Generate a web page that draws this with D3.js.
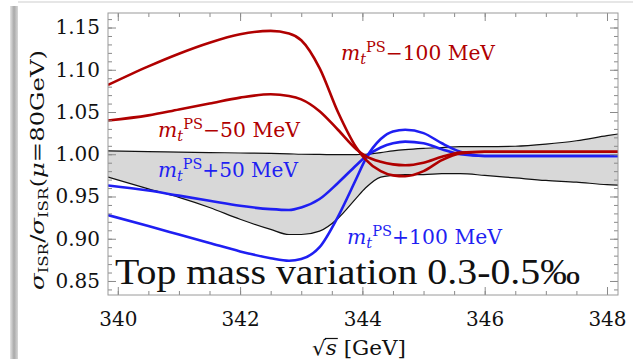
<!DOCTYPE html>
<html>
<head>
<meta charset="utf-8">
<script src="https://cdn.jsdelivr.net/npm/d3@7"></script>
<style>
  html, body { margin: 0; padding: 0; background: #fff; }
  svg { display: block; }
</style>
</head>
<body>
<svg id="chart" width="633" height="359"></svg>
<script>
// ---------------- data ----------------
const sqrtS = [339.84, 340.5, 341, 341.5, 342, 342.5, 342.8, 343, 343.3, 343.6, 343.9, 344.05,
               344.3, 344.5, 344.7, 345, 345.3, 345.6, 346, 346.5, 347, 347.5, 348, 348.18];

const bandUpper = [1.004, 1.003, 1.0025, 1.002, 1.0015, 1.001, 1.0005, 1.000, 0.9998, 0.9995, 0.9995, 1.000,
                   1.002, 1.004, 1.0055, 1.007, 1.008, 1.009, 1.009, 1.0095, 1.012, 1.016, 1.022, 1.024];
const bandLower = [0.973, 0.959, 0.949, 0.937, 0.923, 0.911, 0.905, 0.905, 0.909, 0.924, 0.948, 0.960,
                   0.973, 0.975, 0.976, 0.976, 0.977, 0.977, 0.975, 0.972, 0.969, 0.967, 0.964, 0.9635];

const mMinus100 = [1.082, 1.104, 1.119, 1.132, 1.142, 1.146, 1.143, 1.135, 1.102, 1.050, 1.008, 0.994,
                   0.980, 0.975, 0.974, 0.980, 0.993, 1.001, 1.003, 1.003, 1.003, 1.003, 1.003, 1.003];
const mMinus50  = [1.040, 1.046, 1.053, 1.060, 1.067, 1.071, 1.069, 1.065, 1.051, 1.029, 1.006, 0.998,
                   0.991, 0.988, 0.987, 0.990, 0.997, 1.002, 1.003, 1.003, 1.003, 1.003, 1.003, 1.003];
const mPlus50   = [0.963, 0.957, 0.951, 0.945, 0.939, 0.935, 0.934, 0.937, 0.947, 0.966, 0.987, 0.997,
                   1.008, 1.013, 1.015, 1.013, 1.006, 1.000, 0.998, 0.998, 0.998, 0.998, 0.998, 0.998];
const mPlus100  = [0.928, 0.915, 0.905, 0.895, 0.885, 0.877, 0.874, 0.876, 0.890, 0.926, 0.971, 0.994,
                   1.018, 1.027, 1.029, 1.025, 1.013, 1.003, 0.998, 0.998, 0.998, 0.998, 0.998, 0.998];

const shiftLabels = ["\u2212100 MeV", "\u221250 MeV", "+50 MeV", "+100 MeV"];
const xTickValues = [340, 342, 344, 346, 348];
const yTickValues = [0.85, 0.90, 0.95, 1.00, 1.05, 1.10, 1.15];
const xTickLabels = ["340", "342", "344", "346", "348"];
const yTickLabels = ["0.85", "0.90", "0.95", "1.00", "1.05", "1.10", "1.15"];
const titleText = "Top mass variation 0.3-0.5\u2030";

// ---------------- layout ----------------
const L = 108, R = 618, T = 13, B = 295;
const svg = d3.select("#chart");
const x = d3.scaleLinear().domain([339.84, 348.18]).range([L, R]);
const y = d3.scaleLinear().domain([0.8334, 1.1672]).range([B, T]);

// slide decoration (left shadow bar, top rule)
const defs = svg.append("defs");
const g1 = defs.append("linearGradient").attr("id", "sidebar").attr("x1", "0").attr("x2", "1");
g1.append("stop").attr("offset", "0").attr("stop-color", "#e4e4e4");
g1.append("stop").attr("offset", "0.5").attr("stop-color", "#a9a9a9");
g1.append("stop").attr("offset", "1").attr("stop-color", "#d8d8d8");
svg.append("rect").attr("x", 10).attr("y", 6).attr("width", 8).attr("height", 353).attr("fill", "url(#sidebar)");
svg.append("rect").attr("x", 18).attr("y", 1).attr("width", 615).attr("height", 2).attr("fill", "#e6e6e6");

defs.append("clipPath").attr("id", "plotclip")
  .append("rect").attr("x", L).attr("y", T).attr("width", R - L).attr("height", B - T);

const plot = svg.append("g").attr("clip-path", "url(#plotclip)");

const pts = arr => arr.map((v, i) => [sqrtS[i], v]);

// band
const area = d3.area()
  .x((d, i) => x(sqrtS[i]))
  .y0((d, i) => y(bandLower[i]))
  .y1((d, i) => y(bandUpper[i]))
  .curve(d3.curveMonotoneX);
plot.append("path").datum(sqrtS).attr("d", area).attr("fill", "#d8d8d8");

const line = d3.line().x(d => x(d[0])).y(d => y(d[1])).curve(d3.curveMonotoneX);
[bandUpper, bandLower].forEach(s => {
  plot.append("path").datum(pts(s)).attr("d", line)
    .attr("fill", "none").attr("stroke", "#111").attr("stroke-width", 1.2);
});

const BLUE = "#1f1ff2", RED = "#b00000";
[[mPlus100, BLUE], [mPlus50, BLUE], [mMinus100, RED], [mMinus50, RED]].forEach(([s, c]) => {
  plot.append("path").datum(pts(s)).attr("d", line)
    .attr("fill", "none").attr("stroke", c).attr("stroke-width", 2.6)
    .attr("stroke-linejoin", "round");
});

// ---------------- axes ----------------
const tickColor = "#8a8a8a";
function styleAxis(g) {
  g.select(".domain").remove();
  g.selectAll(".tick line").attr("stroke", tickColor);
  g.selectAll(".tick text").attr("fill", "#111").attr("font-family", "DejaVu Serif").attr("font-size", 20);
}
const xMinor = d3.range(340, 348.01, 0.5);
const yMinor = d3.range(0.84, 1.1601, 0.01).map(v => +v.toFixed(2));

// minor ticks
svg.append("g").attr("transform", `translate(0,${B})`)
  .call(d3.axisBottom(x).tickValues(xMinor).tickSize(-4).tickFormat("")).call(styleAxis);
svg.append("g").attr("transform", `translate(0,${T})`)
  .call(d3.axisTop(x).tickValues(xMinor).tickSize(-4).tickFormat("")).call(styleAxis);
svg.append("g").attr("transform", `translate(${L},0)`)
  .call(d3.axisLeft(y).tickValues(yMinor).tickSize(-4).tickFormat("")).call(styleAxis);
svg.append("g").attr("transform", `translate(${R},0)`)
  .call(d3.axisRight(y).tickValues(yMinor).tickSize(-4).tickFormat("")).call(styleAxis);

// major ticks
svg.append("g").attr("transform", `translate(0,${B})`)
  .call(d3.axisBottom(x).tickValues(xTickValues).tickSize(-8).tickPadding(17)
    .tickFormat((d, i) => xTickLabels[i])).call(styleAxis);
svg.append("g").attr("transform", `translate(0,${T})`)
  .call(d3.axisTop(x).tickValues(xTickValues).tickSize(-8).tickFormat("")).call(styleAxis);
svg.append("g").attr("transform", `translate(${L},0)`)
  .call(d3.axisLeft(y).tickValues(yTickValues).tickSize(-8).tickPadding(8)
    .tickFormat((d, i) => yTickLabels[i])).call(styleAxis);
svg.append("g").attr("transform", `translate(${R},0)`)
  .call(d3.axisRight(y).tickValues(yTickValues).tickSize(-8).tickFormat("")).call(styleAxis);

// frame
svg.append("rect").attr("x", L).attr("y", T).attr("width", R - L).attr("height", B - T)
  .attr("fill", "none").attr("stroke", "#9a9a9a").attr("stroke-width", 1);

// ---------------- curve labels ----------------
function massLabel(px, py, width, color, txt) {
  const t = svg.append("text").attr("x", px).attr("y", py).attr("fill", color)
    .attr("font-family", "DejaVu Serif").attr("font-size", 19.5)
    .attr("textLength", width).attr("lengthAdjust", "spacingAndGlyphs");
  t.append("tspan").attr("font-style", "italic").text("m");
  t.append("tspan").attr("font-style", "italic").attr("font-size", 14).attr("dy", 4).text("t");
  t.append("tspan").attr("font-size", 14).attr("dy", -12).text("PS");
  t.append("tspan").attr("dy", 8).text(txt);
}
massLabel(341, 60, 154, RED, shiftLabels[0]);
massLabel(158, 137, 142, RED, shiftLabels[1]);
massLabel(158, 177, 140, BLUE, shiftLabels[2]);
massLabel(347, 244, 155, BLUE, shiftLabels[3]);

// title text inside plot
svg.append("text").attr("x", 115).attr("y", 284)
  .attr("font-family", "Liberation Serif").attr("font-size", 35).attr("fill", "#111")
  .attr("textLength", 465).attr("lengthAdjust", "spacingAndGlyphs")
  .text(titleText);

// ---------------- axis titles ----------------
const yl = svg.append("text").attr("transform", "translate(44,170) rotate(-90)")
  .attr("text-anchor", "middle").attr("font-family", "DejaVu Serif").attr("font-size", 19)
  .attr("fill", "#111").attr("textLength", 240).attr("lengthAdjust", "spacingAndGlyphs");
yl.append("tspan").attr("font-style", "italic").text("\u03C3");
yl.append("tspan").attr("font-size", 13).attr("dy", 4).text("ISR");
yl.append("tspan").attr("dy", -4).text("/");
yl.append("tspan").attr("font-style", "italic").text("\u03C3");
yl.append("tspan").attr("font-size", 13).attr("dy", 4).text("ISR");
yl.append("tspan").attr("dy", -4).text("(");
yl.append("tspan").attr("font-style", "italic").text("\u03BC");
yl.append("tspan").text("=80GeV)");

const xl = svg.append("text").attr("x", 312).attr("y", 355)
  .attr("font-family", "DejaVu Serif").attr("font-size", 20).attr("fill", "#111")
  .attr("textLength", 94).attr("lengthAdjust", "spacingAndGlyphs");
xl.append("tspan").text("\u221A");
xl.append("tspan").attr("font-style", "italic").text("s");
xl.append("tspan").text(" [GeV]");
// radical bar over s
try {
  const node = xl.node();
  const e0 = node.getEndPositionOfChar(0);
  const e1 = node.getEndPositionOfChar(1);
  svg.append("line").attr("x1", e0.x - 1).attr("x2", e1.x + 1)
    .attr("y1", 355 - 16.5).attr("y2", 355 - 16.5)
    .attr("stroke", "#111").attr("stroke-width", 1.2);
} catch (e) {}
</script>
</body>
</html>
